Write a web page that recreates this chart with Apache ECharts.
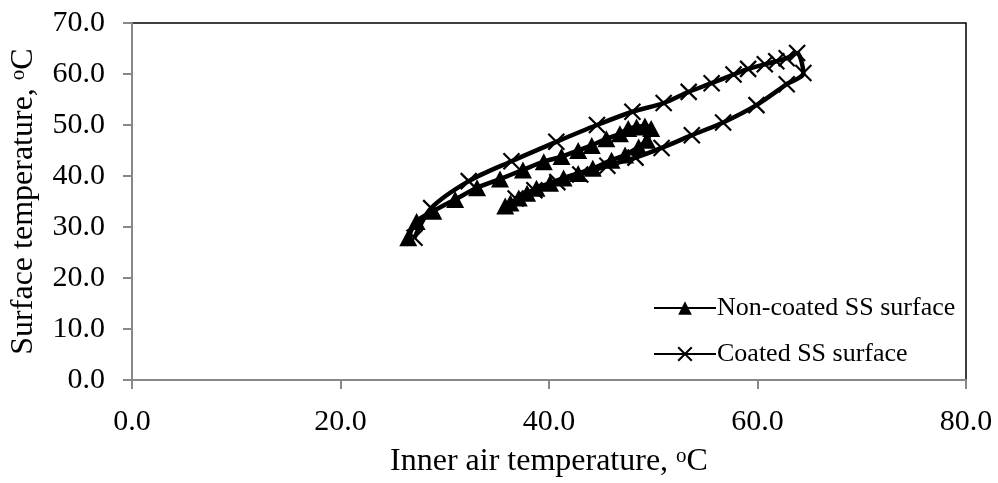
<!DOCTYPE html>
<html>
<head>
<meta charset="utf-8">
<script src="https://cdn.jsdelivr.net/npm/echarts@6/dist/echarts.min.js"></script>
<style>
html,body{margin:0;padding:0;background:#fff;}
#chart{width:998px;height:483px;}
</style>
</head>
<body>
<div id="chart"></div>
<script>
// Data
var seriesNames = ['Non-coated SS surface', 'Coated SS surface'];
var nonCoatedX = [26.5,27.3,28.9,31.0,33.1,35.3,37.5,39.5,41.2,42.8,44.1,45.5,46.8,47.6,48.4,49.2,49.8,49.4,48.6,47.3,46.0,44.2,42.8,41.4,40.1,38.8,37.9,37.1,36.3,35.8];
var nonCoatedY = [27.9,31.1,33.1,35.4,37.7,39.4,41.2,42.8,43.8,45.0,46.0,47.3,48.3,49.3,49.6,49.8,49.3,47.0,45.7,44.1,43.1,41.5,40.5,39.6,38.6,37.6,36.6,35.7,34.7,34.1];
var coatedX = [27.1,28.7,32.3,36.4,40.7,44.6,48.0,51.0,53.4,55.6,57.7,59.1,60.7,61.8,62.8,63.8,64.4,62.8,59.9,56.7,53.7,50.8,48.3,45.6,43.0,40.8,38.6,36.8];
var coatedY = [27.9,33.7,39.0,42.9,46.7,50.0,52.6,54.3,56.5,58.2,59.9,61.0,61.9,62.5,63.1,64.1,60.2,58.0,53.9,50.5,48.0,45.5,43.6,42.0,40.3,38.8,37.2,35.6];
var xTicks = {min: 0, max: 80, interval: 20};
var yTicks = {min: 0, max: 70, interval: 10};
var xTitle = 'Inner air temperature, ';
var yTitle = 'Surface temperature, ';

function pairs(xs, ys){ return xs.map(function(x,i){ return [x, ys[i]]; }); }

var FONT = '"Liberation Serif", "Times New Roman", serif';
var FS = 30;
var TFS = 32;
var crossPath = 'path://M0,0L10,10M10,0L0,10';

var chart = echarts.init(document.getElementById('chart'), null, {renderer:'canvas'});
chart.setOption({
  animation: false,
  backgroundColor: '#fff',
  textStyle: {fontFamily: FONT, color: '#000'},
  grid: {left: 132, right: 32, top: 23, bottom: 99, show: true, borderColor: '#000', borderWidth: 1.5, backgroundColor: 'transparent'},
  legend: {
    orient: 'vertical', left: 648, top: 290, itemGap: 20, itemWidth: 62, itemHeight: 17,
    textStyle: {fontFamily: FONT, fontSize: 26, color: '#000', padding: [0,0,0,-4]},
    data: seriesNames
  },
  xAxis: {
    type: 'value', min: xTicks.min, max: xTicks.max, interval: xTicks.interval,
    splitLine: {show: false},
    axisLine: {show: true, lineStyle: {color: '#888', width: 2}},
    axisTick: {show: true, inside: false, length: 9, lineStyle: {color: '#888', width: 2}},
    axisLabel: {fontFamily: FONT, fontSize: FS, color: '#000', margin: 27, formatter: function(v){ return v.toFixed(1); }},
    name: '{t|' + xTitle + '}{s|o}{t|C}', nameLocation: 'middle', nameGap: 66,
    nameTextStyle: {rich: {
      t: {fontFamily: FONT, fontSize: TFS, color: '#000'},
      s: {fontFamily: FONT, fontSize: 21, color: '#000', verticalAlign: 'top', padding: [0,0,11,0]}
    }}
  },
  yAxis: {
    type: 'value', min: yTicks.min, max: yTicks.max, interval: yTicks.interval,
    splitLine: {show: false},
    axisLine: {show: true, lineStyle: {color: '#888', width: 2}},
    axisTick: {show: true, inside: false, length: 9, lineStyle: {color: '#888', width: 2}},
    axisLabel: {fontFamily: FONT, fontSize: FS, color: '#000', margin: 27, formatter: function(v){ return v.toFixed(1); }},
    name: '{t|' + yTitle + '}{s|o}{t|C}', nameLocation: 'middle', nameGap: 92, nameRotate: 90,
    nameTextStyle: {rich: {
      t: {fontFamily: FONT, fontSize: TFS, color: '#000'},
      s: {fontFamily: FONT, fontSize: 21, color: '#000', verticalAlign: 'top', padding: [0,0,11,0]}
    }}
  },
  series: [
    {
      name: seriesNames[0], type: 'line', smooth: 0.3, data: pairs(nonCoatedX, nonCoatedY),
      symbol: 'triangle', symbolSize: [18, 17],
      itemStyle: {color: '#000', borderColor: '#000', borderWidth: 0},
      lineStyle: {color: '#000', width: 4.5},
      z: 3
    },
    {
      name: seriesNames[1], type: 'line', smooth: 0.3, data: pairs(coatedX, coatedY),
      symbol: crossPath, symbolSize: 16,
      itemStyle: {color: 'rgba(0,0,0,0)', borderColor: '#000', borderWidth: 2.2},
      lineStyle: {color: '#000', width: 4.5},
      z: 2
    }
  ]
});
</script>
</body>
</html>
